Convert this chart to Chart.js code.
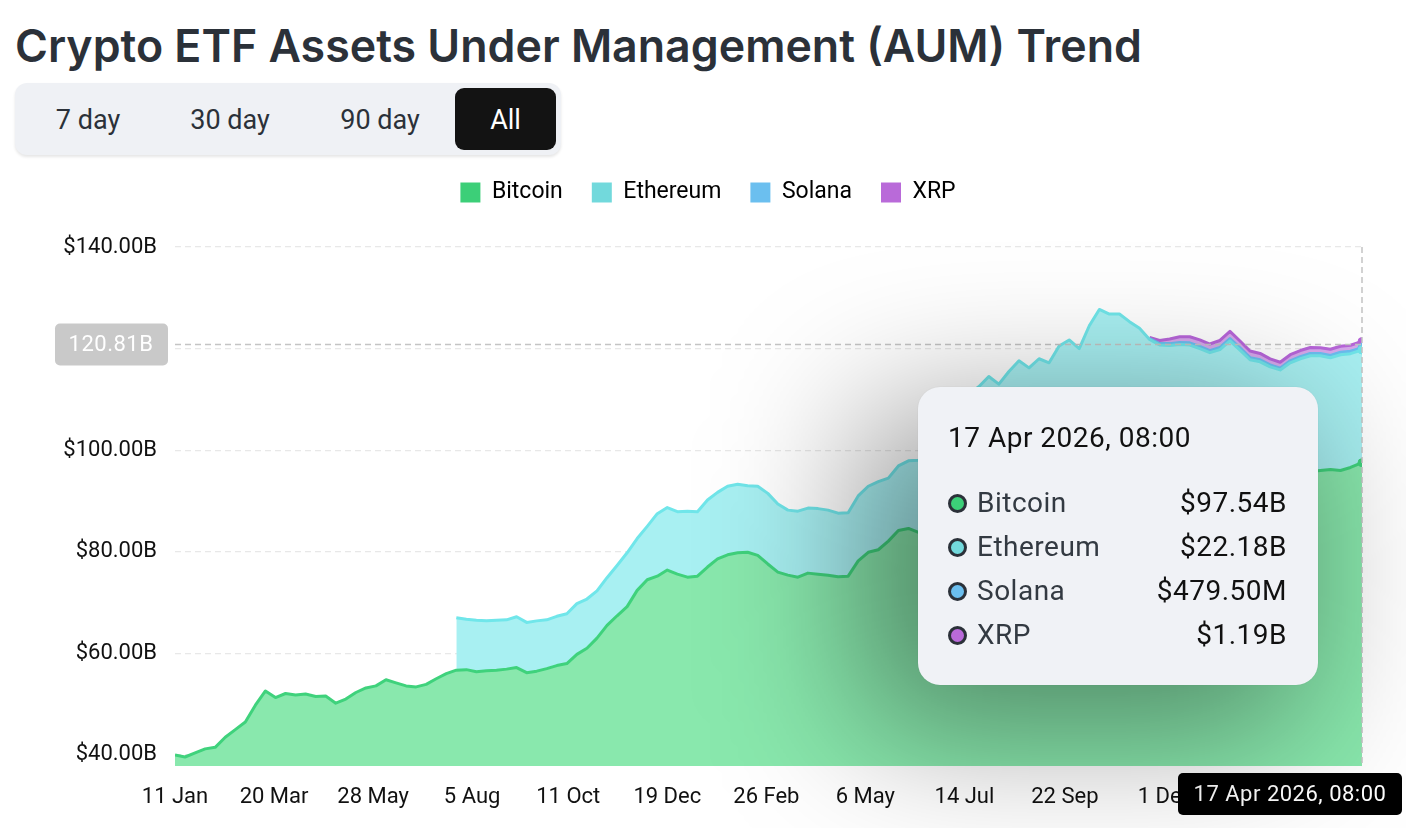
<!DOCTYPE html>
<html>
<head>
<meta charset="utf-8">
<script src="https://cdn.jsdelivr.net/npm/chart.js@4.4.1/dist/chart.umd.min.js"></script>
<style>
  html, body { margin:0; padding:0; background:#fff; width:1406px; height:828px; overflow:hidden; font-family: Roboto, "Noto Sans", sans-serif; }
  #title { position:absolute; left:15px; top:19px; font-family: Inter, Roboto, sans-serif; font-weight:600; font-size:44.7px; color:#2b3139; white-space:nowrap; }
  #tabs { position:absolute; left:15px; top:83px; width:546px; height:72px; background:#eff1f5; border-radius:12px; box-shadow:0 2px 3px rgba(0,0,0,0.10); }
  .tab { position:absolute; top:5px; height:62px; line-height:64px; font-size:27px; color:#2b3139; text-align:center; }
  .tab.active { background:#131313; color:#fff; border-radius:9px; }
  #wrap { position:absolute; left:0; top:152px; width:1406px; height:676px; }
  #shade { position:absolute; left:860px; top:410px; width:440px; height:320px; background:rgba(0,0,0,0.42); border-radius:40px; filter: blur(75px); pointer-events:none; }
  #tip { position:absolute; left:918px; top:387px; width:400px; height:298px; background:#f0f2f6; border-radius:22px; box-shadow: 0 0 2px rgba(0,0,0,0.08); }
  #tip .tt { position:absolute; left:30px; top:34px; font-size:28px; letter-spacing:0.5px; color:#111; white-space:nowrap; }
  #tip .row { position:absolute; left:30px; right:31px; height:44px; line-height:44px; font-size:28px; letter-spacing:0.5px; }
  #tip .dot { position:absolute; left:0; top:13px; width:13px; height:13px; border:3px solid #2b3139; border-radius:50%; }
  #tip .name { position:absolute; left:29px; color:#333a42; }
  #tip .val { position:absolute; right:0; color:#111; }
</style>
</head>
<body>
<div id="title">Crypto ETF Assets Under Management (AUM) Trend</div>
<div id="tabs">
  <div class="tab" style="left:18px;width:110px;">7 day</div>
  <div class="tab" style="left:160px;width:110px;">30 day</div>
  <div class="tab" style="left:310px;width:110px;">90 day</div>
  <div class="tab active" style="left:440px;width:101px;">All</div>
</div>
<div id="wrap"><canvas id="c"></canvas></div>
<div id="shade"></div>
<div id="tip"></div>
<script>
// ---------------- DATA ----------------
const dates = [
 '2024-01-11','2024-01-18','2024-01-25','2024-02-01','2024-02-08','2024-02-15','2024-02-22','2024-02-29','2024-03-07','2024-03-14',
 '2024-03-21','2024-03-28','2024-04-04','2024-04-11','2024-04-18','2024-04-25','2024-05-02','2024-05-09','2024-05-16','2024-05-23',
 '2024-05-30','2024-06-06','2024-06-13','2024-06-20','2024-06-27','2024-07-04','2024-07-11','2024-07-18','2024-07-25','2024-08-01',
 '2024-08-08','2024-08-15','2024-08-22','2024-08-29','2024-09-05','2024-09-12','2024-09-19','2024-09-26','2024-10-03','2024-10-10',
 '2024-10-17','2024-10-24','2024-10-31','2024-11-07','2024-11-14','2024-11-21','2024-11-28','2024-12-05','2024-12-12','2024-12-19',
 '2024-12-26','2025-01-02','2025-01-09','2025-01-16','2025-01-23','2025-01-30','2025-02-06','2025-02-13','2025-02-20','2025-02-27',
 '2025-03-06','2025-03-13','2025-03-20','2025-03-27','2025-04-03','2025-04-10','2025-04-17','2025-04-24','2025-05-01','2025-05-08',
 '2025-05-15','2025-05-22','2025-05-29','2025-06-05','2025-06-12','2025-06-19','2025-06-26','2025-07-03','2025-07-10','2025-07-17',
 '2025-07-24','2025-07-31','2025-08-07','2025-08-14','2025-08-21','2025-08-28','2025-09-04','2025-09-11','2025-09-18','2025-09-25',
 '2025-10-02','2025-10-09','2025-10-16','2025-10-23','2025-10-30','2025-11-06','2025-11-13','2025-11-20','2025-11-27','2025-12-04',
 '2025-12-11','2025-12-18','2025-12-25','2026-01-01','2026-01-08','2026-01-15','2026-01-22','2026-01-29','2026-02-05','2026-02-12',
 '2026-02-19','2026-02-26','2026-03-05','2026-03-12','2026-03-19','2026-03-26','2026-04-02','2026-04-09','2026-04-17'
];
// values in billions USD
const bitcoin = [
 40.0, 39.6, 40.4, 41.2, 41.5, 43.5, 45.0, 46.5, 49.8, 52.6,
 51.3, 52.1, 51.8, 52.0, 51.5, 51.6, 50.2, 51.0, 52.3, 53.2,
 53.6, 54.8, 54.2, 53.6, 53.4, 53.9, 55.0, 56.0, 56.7, 56.8,
 56.4, 56.6, 56.7, 56.9, 57.2, 56.2, 56.5, 57.0, 57.6, 58.0,
 59.8, 61.0, 63.0, 65.5, 67.4, 69.2, 72.4, 74.5, 75.2, 76.4,
 75.6, 75.0, 75.2, 77.0, 78.6, 79.4, 79.8, 79.9, 79.3, 77.6,
 76.0, 75.4, 75.0, 75.8, 75.6, 75.4, 75.1, 75.2, 78.2, 79.9,
 80.4, 82.1, 84.2, 84.6, 83.8, 85.0, 86.5, 88.0, 90.5, 92.5,
 92.0, 93.0, 92.2, 94.5, 95.0, 94.0, 95.5, 95.0, 97.5, 98.0,
 97.0, 100.5, 101.0, 100.5, 100.0, 98.0, 97.0, 95.0, 94.5, 94.3,
 94.6, 94.2, 94.0, 93.5, 94.8, 95.5, 94.5, 93.5, 93.8, 93.0,
 93.0, 94.8, 95.5, 95.8, 96.0, 96.2, 96.0, 96.6, 97.54
];
const ethereum = [
 null,null,null,null,null,null,null,null,null,null,
 null,null,null,null,null,null,null,null,null,null,
 null,null,null,null,null,null,null,null, 10.3, 9.9,
 10.1, 9.8, 9.8, 9.7, 10.0, 9.9, 9.9, 9.6, 9.7, 9.8,
 10.0, 9.7, 9.3, 9.4, 9.9, 10.6, 10.2, 10.5, 12.3, 12.3,
 12.3, 13.0, 12.7, 13.2, 13.1, 13.5, 13.5, 13.1, 13.6, 13.9,
 13.4, 12.8, 13.0, 12.8, 12.9, 12.8, 12.5, 12.5, 12.8, 13.0,
 13.4, 12.4, 12.7, 13.3, 14.2, 15.0, 16.0, 17.0, 18.0, 18.5,
 20.5, 21.5, 20.8, 21.0, 22.6, 22.2, 22.5, 22.2, 23.0, 23.7,
 23.0, 24.0, 26.7, 26.3, 26.8, 27.3, 27.0, 26.8, 26.2, 26.3,
 26.2, 26.5, 26.0, 25.7, 25.0, 26.0, 25.2, 24.3, 23.6, 23.4,
 22.8, 22.4, 22.5, 22.8, 22.6, 22.0, 22.8, 22.4, 22.18
];
const solana = [
 null,null,null,null,null,null,null,null,null,null,
 null,null,null,null,null,null,null,null,null,null,
 null,null,null,null,null,null,null,null,null,null,
 null,null,null,null,null,null,null,null,null,null,
 null,null,null,null,null,null,null,null,null,null,
 null,null,null,null,null,null,null,null,null,null,
 null,null,null,null,null,null,null,null,null,null,
 null,null,null,null,null,null,null,null,null,null,
 null,null,null,null,null,null,null,null,null,null,
 null,null,null,null,null,null,null, 0.15, 0.30, 0.38,
 0.42, 0.44, 0.42, 0.40, 0.45, 0.48, 0.45, 0.42, 0.40, 0.38,
 0.36, 0.40, 0.42, 0.44, 0.43, 0.46, 0.47, 0.48, 0.4795
];
const xrp = [
 null,null,null,null,null,null,null,null,null,null,
 null,null,null,null,null,null,null,null,null,null,
 null,null,null,null,null,null,null,null,null,null,
 null,null,null,null,null,null,null,null,null,null,
 null,null,null,null,null,null,null,null,null,null,
 null,null,null,null,null,null,null,null,null,null,
 null,null,null,null,null,null,null,null,null,null,
 null,null,null,null,null,null,null,null,null,null,
 null,null,null,null,null,null,null,null,null,null,
 null,null,null,null,null,null,null, 0.25, 0.60, 0.90,
 1.10, 1.20, 1.30, 1.30, 1.35, 1.40, 1.35, 1.30, 1.25, 1.20,
 1.15, 1.20, 1.20, 1.18, 1.15, 1.20, 1.20, 1.18, 1.19
];
const seriesNames = ['Bitcoin','Ethereum','Solana','XRP'];
const xTickDates = ['2024-01-11','2024-03-20','2024-05-28','2024-08-05','2024-10-11','2024-12-19',
                    '2025-02-26','2025-05-06','2025-07-14','2025-09-22','2025-12-01'];
const yTickValues = [40, 60, 80, 100, 120, 140];
const yMin = 37.83, yMax = 140;
const crosshairValue = 120.81;
const crosshairLabel = '17 Apr 2026, 08:00';

// ---------------- HELPERS ----------------
const MONTHS = ['Jan','Feb','Mar','Apr','May','Jun','Jul','Aug','Sep','Oct','Nov','Dec'];
const t0 = Date.UTC(2024,0,11);
function dayOf(s){ const [y,m,d]=s.split('-').map(Number); return Math.round((Date.UTC(y,m-1,d)-t0)/86400000); }
function fmtTick(s){ const [y,m,d]=s.split('-').map(Number); return d+' '+MONTHS[m-1]; }
const xs = dates.map(dayOf);
const tickMap = {}; xTickDates.forEach(s => tickMap[dayOf(s)] = fmtTick(s));
const last = dates.length - 1;
function pts(arr){ return arr.map((v,i)=>({x:xs[i], y:v})); }
function fmtVal(v){ return v >= 1 ? '$'+v.toFixed(2)+'B' : '$'+(v*1000).toFixed(2)+'M'; }

const colors = {
  line: ['#3fd27c','#70e6ea','#6bbff0','#b866da'],
  fill: ['#89e8ad','#a8f0f2','#a4d9f7','#d7a9ec'],
  legend: ['#3ccf78','#72d9dc','#6bbfef','#b96ad9']
};
const series = [bitcoin, ethereum, solana, xrp];

const datasets = series.map((arr, k) => ({
  label: seriesNames[k],
  data: pts(arr),
  borderColor: colors.line[k],
  backgroundColor: colors.fill[k],
  borderWidth: 3,
  fill: k === 0 ? 'origin' : '-1',
  tension: 0,
  borderJoinStyle: 'round',
  pointRadius: (ctx) => ctx.dataIndex === last ? 4 : 0,
  pointBackgroundColor: colors.line[k],
  pointBorderColor: colors.line[k],
  pointBorderWidth: 1,
  spanGaps: false
}));

function roundRect(ctx,x,y,w,h,r){ ctx.beginPath(); ctx.moveTo(x+r,y); ctx.arcTo(x+w,y,x+w,y+h,r); ctx.arcTo(x+w,y+h,x,y+h,r); ctx.arcTo(x,y+h,x,y,r); ctx.arcTo(x,y,x+w,y,r); ctx.closePath(); }

const crosshair = {
  id: 'crosshair',
  afterDraw(chart) {
    const {ctx, chartArea, scales} = chart;
    const x = scales.x.getPixelForValue(xs[last]);
    const y = scales.y.getPixelForValue(crosshairValue);
    ctx.save();
    ctx.strokeStyle = '#c4c4c4';
    ctx.lineWidth = 1.5;
    ctx.setLineDash([6,4]);
    ctx.beginPath(); ctx.moveTo(x, chartArea.top); ctx.lineTo(x, chartArea.bottom); ctx.stroke();
    ctx.beginPath(); ctx.moveTo(chartArea.left, y); ctx.lineTo(x, y); ctx.stroke();
    ctx.setLineDash([]);
    // y label box
    ctx.font = '22px Roboto, "Noto Sans", sans-serif';
    try { ctx.letterSpacing = '0.5px'; } catch(e) {}
    const yl = crosshairValue.toFixed(2)+'B';
    ctx.fillStyle = '#c9c9c9';
    roundRect(ctx, 55, y-21, 113, 42, 5); ctx.fill();
    ctx.fillStyle = '#ffffff'; ctx.textAlign='center'; ctx.textBaseline='middle';
    ctx.fillText(yl, 111, y+1);
    // x label box
    ctx.fillStyle = '#000000';
    const bw = 224, bx = x - 184, by = chartArea.bottom + 7;
    roundRect(ctx, bx, by, bw, 42, 5); ctx.fill();
    ctx.fillStyle = '#ffffff';
    ctx.fillText(crosshairLabel, bx + bw/2, by + 22);
    ctx.restore();
  }
};

const legendHeight = {
  id: 'legendHeight',
  beforeInit(chart) {
    const fit = chart.legend.fit;
    chart.legend.fit = function(){ fit.bind(chart.legend)(); this.height = 95; };
  }
};

Chart.defaults.font.family = 'Roboto, "Noto Sans", sans-serif';
const chart = new Chart(document.getElementById('c'), {
  type: 'line',
  data: { datasets },
  plugins: [legendHeight, crosshair],
  options: {
    responsive: true,
    maintainAspectRatio: false,
    animation: false,
    layout: { padding: { left: 54, right: 44, top: 0, bottom: 0 } },
    plugins: {
      legend: {
        position: 'top',
        labels: {
          boxWidth: 20, boxHeight: 20, padding: 29,
          color: '#333a42',
          font: { size: 23 },
          generateLabels(chart) {
            return chart.data.datasets.map((d,i)=>({ text: d.label, fillStyle: colors.legend[i], strokeStyle: colors.legend[i], lineWidth: 0, datasetIndex: i, hidden: false }));
          }
        }
      },
      tooltip: { enabled: false }
    },
    scales: {
      x: {
        type: 'linear',
        min: 0, max: xs[last],
        grid: { display: false },
        border: { display: false },
        afterBuildTicks(scale) { scale.ticks = Object.keys(tickMap).map(v => ({ value: Number(v) })); },
        afterFit(scale) { scale.height = 62; },
        ticks: {
          autoSkip: false, maxRotation: 0, padding: 10,
          color: '#111', font: { size: 22 },
          callback: (v) => tickMap[v] || ''
        }
      },
      y: {
        stacked: true,
        min: yMin, max: yMax,
        afterBuildTicks(scale) { scale.ticks = yTickValues.map(v => ({ value: v })); },
        afterFit(scale) { scale.width = 121; },
        grid: { color: '#e8e8e8', lineWidth: 1.2, drawTicks: false },
        border: { display: false, dash: [6,4] },
        ticks: {
          padding: 18, color: '#111', font: { size: 22 },
          callback: (v) => '$' + Number(v).toFixed(2) + 'B'
        }
      }
    }
  }
});

// -------- tooltip (HTML) --------
const tip = document.getElementById('tip');
let html = '<div class="tt">' + crosshairLabel + '</div>';
series.forEach((arr,k) => {
  html += '<div class="row" style="top:' + (94 + k*44) + 'px"><span class="dot" style="background:' + colors.legend[k] + '"></span>' +
          '<span class="name">' + seriesNames[k] + '</span><span class="val">' + fmtVal(arr[last]) + '</span></div>';
});
tip.innerHTML = html;
</script>
</body>
</html>
